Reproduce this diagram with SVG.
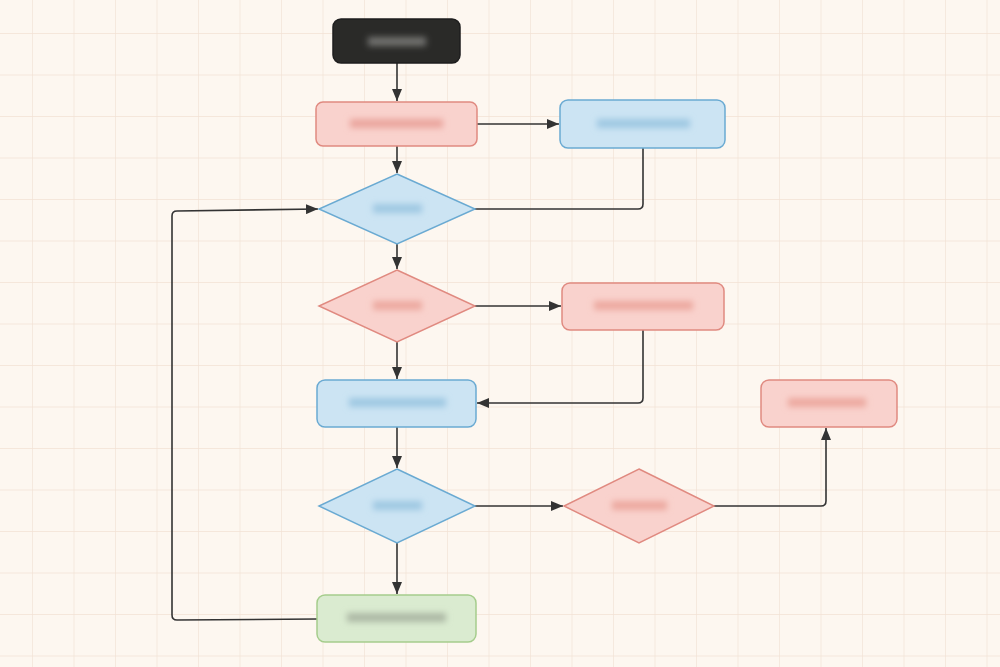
<svg xmlns="http://www.w3.org/2000/svg" width="1000" height="667" viewBox="0 0 1000 667">
<defs>
<pattern id="grid" x="32" y="33" width="41.5" height="41.5" patternUnits="userSpaceOnUse">
<path d="M0 0H41.5M0 0V41.5" fill="none" stroke="#f2e2d5" stroke-width="1.3"/>
</pattern>
<filter id="blur" x="-30%" y="-250%" width="160%" height="600%"><feGaussianBlur stdDeviation="3.3"/></filter>
<marker id="arr" viewBox="0 0 12 10" refX="12" refY="5" markerWidth="12" markerHeight="10" markerUnits="userSpaceOnUse" orient="auto">
<path d="M0 0L12 5L0 10z" fill="#333"/>
</marker>
<style>
.pink{fill:#f9d2cd;stroke:#e08a80;stroke-width:1.5}
.blue{fill:#cce4f3;stroke:#6aaad2;stroke-width:1.5}
.green{fill:#daebd0;stroke:#a5cd8c;stroke-width:1.5}
.dark{fill:#2a2a28;stroke:#1e1e1e;stroke-width:1.5}
.c{fill:none;stroke:#333;stroke-width:1.6;stroke-linejoin:round}
.bl{filter:url(#blur)}
</style>
</defs>
<rect width="1000" height="667" fill="#fdf7f0"/>
<rect width="1000" height="667" fill="url(#grid)"/>
<g id="connectors">
<path class="c" d="M397 63V101" marker-end="url(#arr)"/>
<path class="c" d="M477 124H559" marker-end="url(#arr)"/>
<path class="c" d="M397 146V173" marker-end="url(#arr)"/>
<path class="c" d="M643 148V204Q643 209 638 209H475"/>
<path class="c" d="M397 244V269" marker-end="url(#arr)"/>
<path class="c" d="M475 306H561" marker-end="url(#arr)"/>
<path class="c" d="M643 330V398Q643 403 638 403H477" marker-end="url(#arr)"/>
<path class="c" d="M397 342V379" marker-end="url(#arr)"/>
<path class="c" d="M397 427V468" marker-end="url(#arr)"/>
<path class="c" d="M475 506H563" marker-end="url(#arr)"/>
<path class="c" d="M714 506H821Q826 506 826 501V428" marker-end="url(#arr)"/>
<path class="c" d="M397 543V594" marker-end="url(#arr)"/>
<path class="c" d="M317 619L177 620Q172 620 172 615V216Q172 211 177 211L318 209" marker-end="url(#arr)"/>
</g>
<g id="start"><rect class="dark" x="333" y="19" width="127" height="44" rx="8"/><rect class="bl" x="368" y="37" width="58" height="9" fill="#727270"/></g>
<g id="a"><rect class="pink" x="316" y="102" width="161" height="44" rx="7"/><rect class="bl" x="350" y="119" width="93" height="9" fill="#eaa59d"/></g>
<g id="b"><rect class="blue" x="560" y="100" width="165" height="48" rx="8"/><rect class="bl" x="597" y="119" width="93" height="9" fill="#9ec8e2"/></g>
<g id="d1"><polygon class="blue" points="397,174 475,209 397,244 319,209"/><rect class="bl" x="373" y="204" width="49" height="9" fill="#9ec8e2"/></g>
<g id="d2"><polygon class="pink" points="397,270 475,306 397,342 319,306"/><rect class="bl" x="373" y="301" width="49" height="9" fill="#eca89f"/></g>
<g id="c"><rect class="pink" x="562" y="283" width="162" height="47" rx="8"/><rect class="bl" x="594" y="301" width="99" height="9" fill="#eca89f"/></g>
<g id="e"><rect class="blue" x="317" y="380" width="159" height="47" rx="8"/><rect class="bl" x="349" y="398" width="97" height="9" fill="#9ec8e2"/></g>
<g id="f"><rect class="pink" x="761" y="380" width="136" height="47" rx="8"/><rect class="bl" x="788" y="398" width="78" height="9" fill="#eca89f"/></g>
<g id="d3"><polygon class="blue" points="397,469 475,506 397,543 319,506"/><rect class="bl" x="373" y="501" width="49" height="9" fill="#9ec8e2"/></g>
<g id="d4"><polygon class="pink" points="639,469 714,506 639,543 564,506"/><rect class="bl" x="612" y="501" width="55" height="9" fill="#eca89f"/></g>
<g id="g"><rect class="green" x="317" y="595" width="159" height="47" rx="8"/><rect class="bl" x="347" y="613" width="99" height="9" fill="#acb8a4"/></g>
</svg>
